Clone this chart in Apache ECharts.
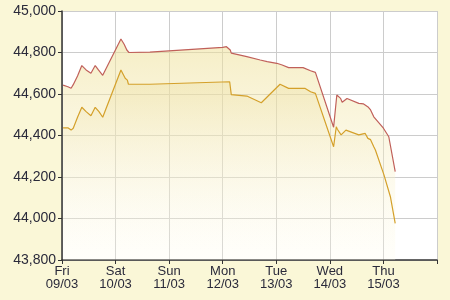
<!DOCTYPE html>
<html>
<head>
<meta charset="utf-8">
<script src="https://cdn.jsdelivr.net/npm/echarts@6/dist/echarts.min.js"></script>
<style>html,body{margin:0;padding:0;background:#faf7d7;}#c{width:450px;height:300px;}</style>
</head>
<body>
<div id="c"></div>
<script>
// x tick labels (day index 0..7)
var dayLabels = ['Fri\n09/03', 'Sat\n10/03', 'Sun\n11/03', 'Mon\n12/03', 'Tue\n13/03', 'Wed\n14/03', 'Thu\n15/03', ''];
var yTicks = [43800, 44000, 44200, 44400, 44600, 44800, 45000];

// time in days since Fri 09/03 00:00
var sellX = [0.02,0.11,0.17,0.21,0.29,0.37,0.45,0.54,0.62,0.68,0.76,1.10,1.16,1.21,1.25,1.64,3.00,3.07,3.14,3.16,3.45,3.70,3.83,4.01,4.11,4.23,4.50,4.64,4.73,5.07,5.13,5.20,5.23,5.32,5.54,5.63,5.66,5.72,5.76,5.82,6.00,6.10,6.22];
var sellY = [44643,44635,44628,44645,44687,44737,44716,44700,44737,44716,44690,44865,44840,44812,44800,44802,44825,44828,44812,44797,44780,44764,44756,44748,44740,44727,44727,44712,44704,44440,44595,44579,44560,44578,44555,44552,44548,44536,44523,44490,44435,44394,44226];

var buyX = [0.02,0.11,0.17,0.21,0.29,0.37,0.45,0.54,0.62,0.69,0.76,1.10,1.18,1.22,1.24,1.64,3.13,3.15,3.16,3.45,3.72,4.07,4.23,4.54,4.64,4.73,5.07,5.12,5.14,5.21,5.30,5.54,5.66,5.71,5.76,5.82,5.85,6.01,6.13,6.22];
var buyY = [44437,44437,44426,44435,44488,44536,44515,44495,44536,44515,44488,44716,44676,44667,44647,44647,44659,44662,44597,44590,44558,44647,44627,44627,44611,44603,44346,44442,44430,44403,44426,44403,44410,44386,44380,44346,44330,44210,44105,43977];

function zip(xs, ys) { return xs.map(function (x, i) { return [x, ys[i]]; }); }
function fmt(v) { return String(v).replace(/\B(?=(\d{3})+(?!\d))/g, ','); }

var chart = echarts.init(document.getElementById('c'), null, {renderer: 'canvas'});
chart.setOption({
  animation: false,
  backgroundColor: '#faf7d7',
  grid: {left: 62, right: 13, top: 11, bottom: 40, show: true, backgroundColor: '#ffffff', borderWidth: 0},
  xAxis: {
    type: 'value', min: 0, max: 7, interval: 1,
    axisLine: {show: true, lineStyle: {color: '#333', width: 1.5}},
    axisTick: {show: true, length: 4, lineStyle: {color: '#333'}},
    axisLabel: {color: '#2a2a3a', fontSize: 13, fontFamily: 'Liberation Sans, Arial, sans-serif', lineHeight: 13, margin: 5,
      formatter: function (v) { return dayLabels[v] || ''; }},
    splitLine: {show: true, lineStyle: {color: '#cccccc', width: 1}}
  },
  yAxis: {
    type: 'value', min: yTicks[0], max: yTicks[yTicks.length - 1], interval: 200,
    axisLine: {show: true, lineStyle: {color: '#333', width: 1.5}},
    axisTick: {show: true, length: 4, lineStyle: {color: '#333'}},
    axisLabel: {color: '#2a2a3a', fontSize: 14, fontFamily: 'Liberation Sans, Arial, sans-serif', margin: 6,
      formatter: function (v) { return fmt(v); }},
    splitLine: {show: true, lineStyle: {color: '#cccccc', width: 1}}
  },
  series: [
    {
      name: 'Sell', type: 'line', data: zip(sellX, sellY), symbol: 'none',
      lineStyle: {color: '#c0605a', width: 1.2},
      areaStyle: {origin: 'start', color: new echarts.graphic.LinearGradient(0, 0, 0, 1, [
        {offset: 0, color: 'rgba(238,224,150,0.8)'}, {offset: 1, color: 'rgba(255,252,235,0.35)'}])}
    },
    {
      name: 'Buy', type: 'line', data: zip(buyX, buyY), symbol: 'none',
      lineStyle: {color: '#d4a02a', width: 1.2},
      areaStyle: {origin: 'start', color: new echarts.graphic.LinearGradient(0, 0, 0, 1, [
        {offset: 0, color: 'rgba(232,215,140,0.5)'}, {offset: 1, color: 'rgba(255,255,255,0)'}])}
    }
  ]
});
</script>
</body>
</html>
